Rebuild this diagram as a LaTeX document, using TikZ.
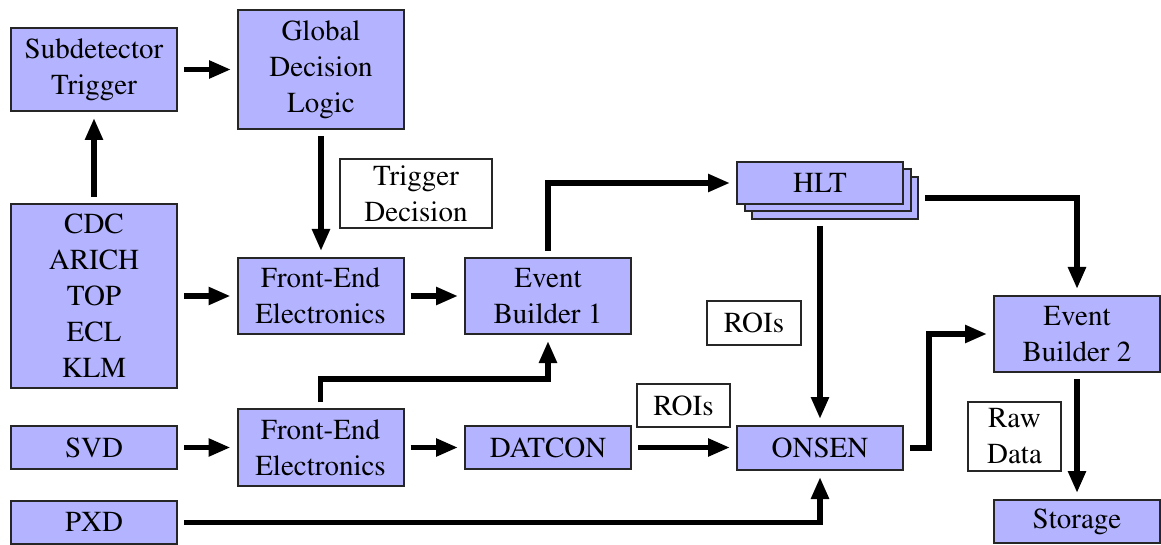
\documentclass[tikz,border=0pt]{standalone}
\usepackage[T1]{fontenc}
\renewcommand{\rmdefault}{ptm}
\usetikzlibrary{arrows.meta,calc}
\definecolor{boxblue}{HTML}{B3B3FF}
\begin{document}
\begin{tikzpicture}[x=0.5pt,y=-0.5pt,
  base/.style={draw=black!85, line width=1pt, inner sep=0pt, align=center, font=\rmfamily\fontsize{14.5}{18}\selectfont},
  blk/.style={base, fill=boxblue, minimum width=83pt},
  lbl/.style={base, fill=white},
  conn/.style={line width=2.7pt, -{Triangle[length=11pt,width=8.5pt]}, shorten >=3pt, shorten <=3pt}]
\useasboundingbox (0,0) rectangle (1161,545);

\node[blk, minimum height=41.5pt] (subtrig) at (94,69.5) {Subdetector\\Trigger};
\node[blk, minimum height=59.5pt] (gdl) at (321,69.5) {Global\\Decision\\Logic};
\node[blk, minimum height=92pt] (det) at (94,296) {CDC\\ARICH\\TOP\\ECL\\KLM};
\node[lbl, minimum width=76pt, minimum height=34.5pt] (trigdec) at (416,193.5) {Trigger\\Decision};
\node[blk, minimum height=38pt] (fee1) at (320.5,296) {Front-End\\Electronics};
\node[blk, minimum height=38pt] (eb1) at (548,296) {Event\\Builder 1};
\node[blk, minimum height=21pt] (hltc) at (835,198) {};
\node[blk, minimum height=21pt] (hltb) at (827.5,190.5) {};
\node[blk, minimum height=21pt] (hlt) at (820,183) {HLT};
\node[lbl, minimum width=47pt, minimum height=22pt] (roi1) at (754,323) {ROIs};
\node[blk, minimum height=38pt] (eb2) at (1077,334) {Event\\Builder 2};
\node[lbl, minimum width=46.5pt, minimum height=34.5pt] (raw) at (1014.5,436.5) {Raw\\Data};
\node[blk, minimum height=21.5pt] (storage) at (1077,521.5) {Storage};
\node[blk, minimum height=21.5pt] (svd) at (94,447.5) {SVD};
\node[blk, minimum height=38.5pt] (fee2) at (320.5,447.5) {Front-End\\Electronics};
\node[blk, minimum height=21.5pt] (datcon) at (548,447.5) {DATCON};
\node[lbl, minimum width=46.5pt, minimum height=21.5pt] (roi2) at (683.5,405.5) {ROIs};
\node[blk, minimum height=22pt] (onsen) at (820,448) {ONSEN};
\node[blk, minimum height=21.5pt] (pxd) at (94,522.5) {PXD};

\draw[conn] (det) -- (subtrig);
\draw[conn] (subtrig) -- (gdl);
\draw[conn] (gdl.south) -- (gdl.south |- fee1.north);
\draw[conn] (det.east |- fee1.west) -- (fee1.west);
\draw[conn] (fee1) -- (eb1);
\draw[conn] (eb1.north) |- (hlt.west);
\draw[conn] (hltc.east) -| (eb2.north);
\draw[conn] (hlt.south |- hltc.south) -- (onsen.north);
\draw[conn] (onsen.east) -- ++(25,0) |- (eb2.west);
\draw[conn] (eb2) -- (storage);
\draw[conn] (svd) -- (fee2);
\draw[conn] (fee2.north) -- ++(0,-29) -| (eb1.south);
\draw[conn] (fee2) -- (datcon);
\draw[conn] (datcon.east) -- (datcon.east -| onsen.west);
\draw[conn] (pxd.east) -| (onsen.south);
\end{tikzpicture}
\end{document}
